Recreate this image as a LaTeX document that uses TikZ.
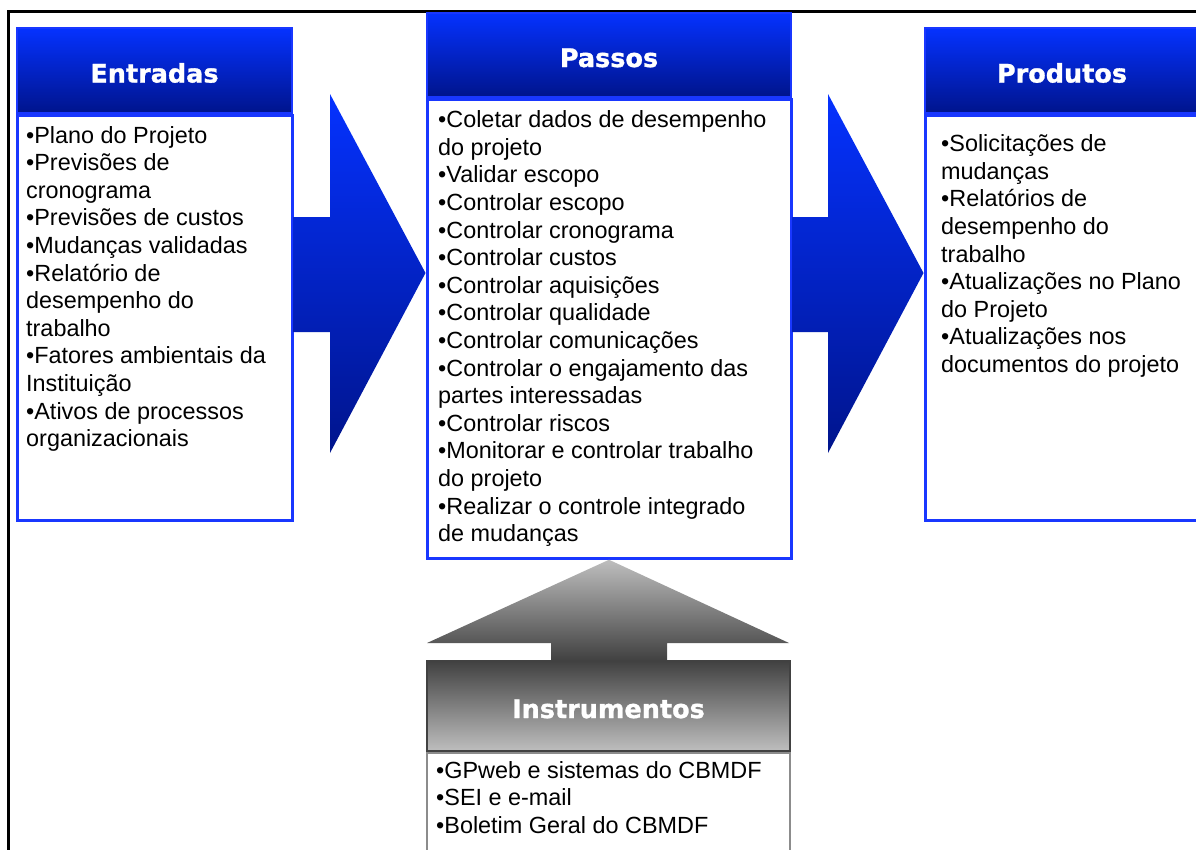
\documentclass[tikz,border=0pt]{standalone}
\usepackage{fontspec}
\setmainfont{Liberation Sans}
\newfontfamily\hdrfont{DejaVu Sans}[BoldFeatures={FakeBold=1.2}]
\usepackage{xcolor}
\usepackage{tikz}
\usetikzlibrary{positioning}

\definecolor{hdrtop}{RGB}{5,50,255}
\definecolor{hdrbot}{RGB}{0,20,140}
\definecolor{boxblue}{RGB}{25,55,255}
\definecolor{graydark}{RGB}{65,65,65}
\definecolor{graylight}{RGB}{190,190,190}
\definecolor{grayline}{RGB}{140,140,140}

\begin{document}
\begin{tikzpicture}[
    x=1pt, y=-1pt,
    hdr/.style={rectangle, draw=boxblue, line width=1.5pt, top color=hdrtop, bottom color=hdrbot, text=white, text height=24pt, text depth=0pt, font=\hdrfont\bfseries\fontsize{25.5}{30}\selectfont},
    ghdr/.style={hdr, draw=graydark, top color=graydark, bottom color=graylight},
    body/.style={rectangle, draw=boxblue, line width=3pt, fill=white},
    gbody/.style={body, draw=grayline, line width=2pt},
    txt/.style={anchor=north west, align=left, inner sep=0pt, font=\fontsize{23.4}{27.6}\selectfont},
    bluearrow/.style={top color=hdrtop, bottom color=hdrbot},
    grayarrow/.style={top color=graylight, bottom color=graydark}
]
\path[use as bounding box, clip] (0,0) rectangle (1196,849);

% Frame
\draw[line width=2.5pt] (8.5,11.5) rectangle (1230,890);

% Entradas
\node[hdr, minimum width=275pt, minimum height=85pt] (enth) at (154.5,70.5) {Entradas};
\node[body, minimum width=275pt, minimum height=405pt, below=0pt of enth] (entb) {};
\node[txt] (entt) at (26,126) {•Plano do Projeto\\•Previsões de\\cronograma\\•Previsões de custos\\•Mudanças validadas\\•Relatório de\\desempenho do\\trabalho\\•Fatores ambientais da\\Instituição\\•Ativos de processos\\organizacionais};

% Passos
\node[hdr, minimum width=364pt, minimum height=84pt] (pash) at (609,55) {Passos};
\node[body, minimum width=364pt, minimum height=459pt, below=0pt of pash] (pasb) {};
\node[txt] (past) at (438,110.5) {•Coletar dados de desempenho\\do projeto\\•Validar escopo\\•Controlar escopo\\•Controlar cronograma\\•Controlar custos\\•Controlar aquisições\\•Controlar qualidade\\•Controlar comunicações\\•Controlar o engajamento das\\partes interessadas\\•Controlar riscos\\•Monitorar e controlar trabalho\\do projeto\\•Realizar o controle integrado\\de mudanças};

% Produtos
\node[hdr, minimum width=274pt, minimum height=85pt] (proh) at (1062,70.5) {Produtos};
\node[body, minimum width=274pt, minimum height=405pt, below=0pt of proh] (prob) {};
\node[txt] (prot) at (941,134.5) {•Solicitações de\\mudanças\\•Relatórios de\\desempenho do\\trabalho\\•Atualizações no Plano\\do Projeto\\•Atualizações nos\\documentos do projeto};

% Instrumentos
\node[ghdr, minimum width=363pt, minimum height=90pt] (insh) at (608.5,706) {Instrumentos};
\node[gbody, minimum width=363pt, minimum height=140pt, below=0pt of insh] (insb) {};
\node[txt] (inst) at (436,761) {•GPweb e sistemas do CBMDF\\•SEI e e-mail\\•Boletim Geral do CBMDF};

% Arrows
\shade[bluearrow] (entb.east |- 0,217) -- (330,217) -- (330,94) -- (pasb.west |- 0,273) -- (330,453) -- (330,332) -- (entb.east |- 0,332) -- cycle;
\shade[bluearrow] (pasb.east |- 0,217) -- (828,217) -- (828,94) -- (prob.west |- 0,273) -- (828,453) -- (828,332) -- (pasb.east |- 0,332) -- cycle;
\shade[grayarrow] (insh.north -| 551,0) -- (551,643) -- (427,643) -- (pasb.south) -- (789,643) -- (667,643) -- (insh.north -| 667,0) -- cycle;
\end{tikzpicture}
\end{document}
